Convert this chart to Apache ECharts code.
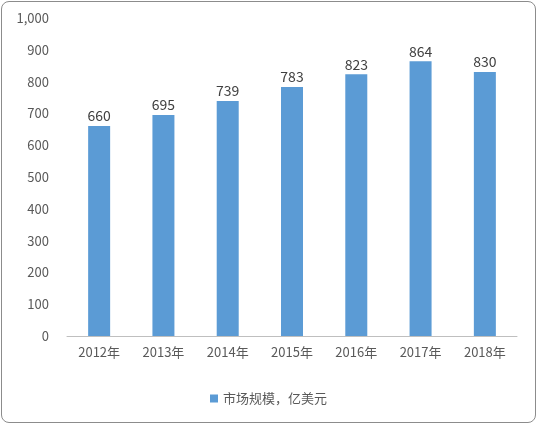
<!DOCTYPE html>
<html><head><meta charset="utf-8">
<script src="https://cdn.jsdelivr.net/npm/echarts@6/dist/echarts.min.js"></script>
<style>html,body{margin:0;padding:0;background:#fff}
#c{position:absolute;left:1px;top:1px;width:535px;height:422px;border:1px solid #8c8c8c;border-radius:8px;box-sizing:border-box}</style>
</head><body><div id="c"></div>
<script>
const categories=['2012年','2013年','2014年','2015年','2016年','2017年','2018年'];
const values=[660,695,739,783,823,864,830];
const seriesName='市场规模，亿美元';
const chart=echarts.init(document.getElementById('c'),null,{renderer:'canvas'});
const font='"Noto Sans CJK SC","Noto Sans",sans-serif';
chart.setOption({
  animation:false,
  grid:{left:65,right:18,top:16,bottom:86},
  legend:{bottom:12,left:'center',itemWidth:8,itemHeight:8,icon:'rect',
    textStyle:{color:'#595959',fontSize:13,fontFamily:font},data:[seriesName]},
  xAxis:{type:'category',data:categories,
    axisLine:{lineStyle:{color:'#bfbfbf'}},axisTick:{show:false},
    axisLabel:{color:'#595959',fontSize:13,fontFamily:font,margin:10}},
  yAxis:{type:'value',min:0,max:1000,interval:100,
    splitLine:{show:false},axisLine:{show:false},axisTick:{show:false},
    axisLabel:{color:'#595959',fontSize:13,fontFamily:font,margin:18}},
  series:[{name:seriesName,type:'bar',data:values,barWidth:22,
    itemStyle:{color:'#5b9bd5'},
    label:{show:true,position:'top',color:'#404040',fontSize:14,fontFamily:font,distance:3}}]
});
</script></body></html>
